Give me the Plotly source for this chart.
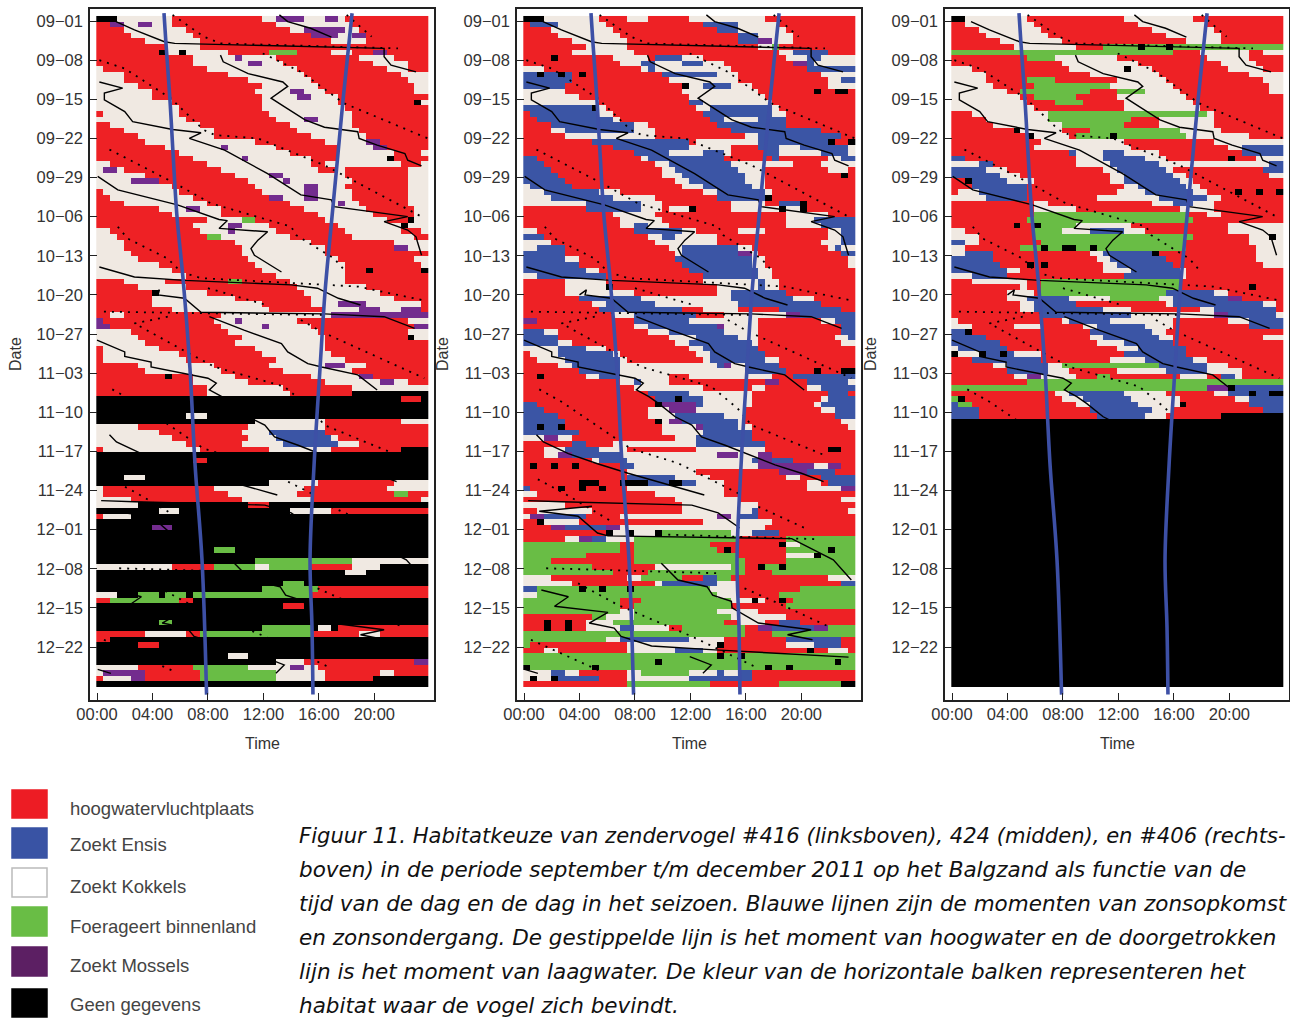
import re
import plotly.graph_objects as go

W, H = 1290, 1019
CODES = {"R": 0, "B": 1, "W": 2, "G": 3, "P": 4, "K": 5}
CELL_COLORS = ["#ee2125", "#3b55a5", "#f0e9e2", "#69bd45", "#732c8e", "#000000"]

# Behaviour per day: run lengths in half-hour slots (R red, B blue, W cream, G green, P purple, K no data)
BIRD_416 = """K3W8R13W2P4W3P2W1R12 R2P2W2P2W3R15W11R11 R4W9R15W2P6W2R10 R5W9R17P4W2P2R9 R7W8R19W5R9 R10W5R33
R9K1W2K1W6R6G4R5W3R3P2R6 R14W6P1W5R12W5R5 R14W8P2W3R13W5R3 W1R15W13R13W3R3 W4R15W11R14W4 W4R18W9R14W3
W6R18W8R14W2 W8R15W5P2W3R13W2 W8R16W5P2W4R13 W11R13W11R11K1W1 W12R12W12R12 R1W11R13W12R11 W13R13W4P2W5R11
R2W13R13W9R11 R4W13R12W9R10 R6W11R14W8R9 R7W16R10W6P2R7 R10W8P1W7R9W5P2R6 R12W16R7W8R4W1 R14W7P1W9R4W7K1R5
W2R14W15R2W11R3W1 W1P2W1R14W14R3W1R9W3 W7R13W5P2W9R9W3 W5P4R13W5P1W9R8W3 W11R12W7P2W4R9W3 R1W11R12W6P2W5R8W3
R2W12R11P2W3P2W5R8W3 R4W12R12W7P1W2R7W3 R9W4P2W3R12W9R7W2 R11W7R14W8R6W2 R16W5G2R10W9R3K1W2 R14W5P2W4R10W9K1W3
W2R13W4P1W6R10W8R3W1 W3R13G2W10R9W9R2 W4R16W11R12W5 W4R17W12R10P2W3 W5R16W12R15 W6R16W13R11W2 W9R14W13R11W1
W11R13W12R3K1R7K1 W13R13W10R12 R4W6R9G2R7W8R12 R6W7R16W10R9 R8K1W7R14W11R7 R8W12R11W12R5 R8W16R7W4P4W8R1
R11W14R8W5P3W3P3R1 R2W2R14W16P14 P1R16W3P1W8R16W3 P2R16W6P1W6R15P2 W5R14W13R13W3 W6R15W12R12K1W2 W7R13W13R15
R1W8R14W10R15 R1W11R12W10R14 R1W12R13W10R12 R6W11R8W8P3W3R9 R7W11R9W10R11 R10K1R3W6R11W7P2R8 R14W8R11W8P2W2R3
R16W11R10W11 R16W12R9K11 K44R3K1 K48 K48 K13W3K32 K23W10R11W4 W6R16W11R15 W9R12W4B8R15 W11R11W4B8W1R13
W13R8W6B8W3R10 R1W14R10W9R10K4 K48 K14R2K32 K48 K48 K4W3K41 K25W7R11W5 W1R16W13R12W6 W1R18W10R14G2R3 W5R16W10R16W1
W6K16R3K23 K9W3K16W6R14 R1W4K43 K48 K8P3K37 K48 K48 K48 K17G3K28 K48 K23G14W11 W11R6G6W2G6R6W4K7 K36W3K9 K48
K27G3K18 K24G8R16 W3K3G3K1G3K1G17R17 R2G10R2K34 K27R3K18 K48 K48 K9G2K37 K24G7K1W2K1R13 R7W6R2G16R7W3R7 R2K46
K6R3K39 K48 K19W3K26 K26W4R16P2 W6R8G8W6P2W2R16 W1P6R8G11W7R8W2R5 R1W4P2R8G11W7R7K8 K48""".split()

BIRD_424 = """K3W8R4W3R6W11R13 R1B4W7R14B5W6R11 R4W9R15B3W7R10 R5W9R17B3W5R9 R7W8R16B3P2W3R9 R9W6R19W2G1R11 R7W9R21W2B5R4
R4K1R8W5R1B4W3R12W3B2W5 R14W3B2W4B3W3R10P2B1W6 W3R14W1B1W11R11B7 B2K1B2K1B1R1K1R11B8W3R12W5 B7R14W10R13W2B2
B6R17K1W2B4W3R11W4 W6R17W11R8K1R2K2R1 W8R16W11R13 W11R13B2W10R12 B10K1W1R13W2B9W1R11 R1B10W2R13B10W2R10
R2B11W1R13B2W5B4R10 R4B12W2R10B10R10 R4W2B10W3R11B13R5 R6W13R13W2B12R2 R10B14R1W9B10K1R2K1 R13B11W6R4B3W3B7W1
R16B5W5B3W1R5B2W6B4W1 B2R15W1B11R7B1R7W2B2 B3R16W2B9W9R4W5 B4R16W2B9W4R9W3R1 B5R15W3B9W3R11K1R1 B6R16W2B8W3R13
W1B6R16W3B7W2R13 W3B8W3R12W2B7W1R12 W4B9W6R9B7K1R12 W9B8W3R10W5R2B3K1R7 R9B8W3R1W3K1R5W7K1W2K1R7 R13W6R19W6R4
R14W6R18W4B6 R14W2B2W3R17W5B5 W2R14B7W2R6W4R9W2B2 B3R15W2B2W6R16W2B2 W4R15W9R15W3B2 W2B4R15W2B8W2R11W1B1W2
B6R16W1B8P2W1R12B2 B6W2R14B11W2R12W1 B8R15B10W2R12W1 B9W2R13B10W2R12 W2B10R14B8W2R12 R6W6R14W8B1W2R11
R6W6K1R15W6B1W2R11 R6W10R12W2B8R10 R8B9W13B9W3R6 R10W2B7W12B12R5 R11B12R3W5R6B9R2 R13W3B9R4W9P2B8
P2R14B8W10R9W2B3 R16W2B10P1W5R12B2 B3W2R13W3B8W5R12B2 B5R16W4B6W3R11W2B1 B5W2R15W2B9W1R12W2 W5B4W3R12W2B8R14
R1W4B8W1R11W2B8R13 R2W4B8W1R11W1B8W2R11 R5W2B7W14B1P1W2B5R11 R8B6W18B6R4K1R3K2 R2K1R6W2B3W7R3W12R3B9
R14W2B1W4R14P2R4B6W1 R16W10R7W2R6W2B5 R18B6W9R11B3R1 R19B3K1B3W7R10W1B4 B2R17K1P5B1W7R9W1B5 B3R15W3P4W7R11W2B3
B5R13W4B7W3R13B3 B6R13K1W1P2B8W1R14W2 B2K1B2K1R14W5P1B5W2R14W1 B8R12W6B7R15 W3P2W2R15W3B8R15 R7B2R4W12B10R13
R3W3B5W4R10W10R9K2R2 R3W2P2B7W14P3W3P2R12 R10W1B4W18B1P2B3R9 R1K1R2K1R2K1R6B2W18P8W2P2R2 R15W10R12P4B4R3
R15B7W5R11W2R3B5 R8K3R3K4B3K2B2W4R12W2R1B4 B1R4K1R2K1R2K1R3W14R12W5P2 W2R17W10R19 R22W9R15W2 W6R17W11R14
R2W8R13W10B1R13W1 W1P2B6R5W14P2W1B3R14 R2K1W5R18W10R12 R4P2B6P2W21R13 R12K1W2K1W3K1G10W3B4R11 R6W2P2B2W4G15R7G10
G14R2G11R10K1W2G8 G14R2G12R1K1R8G6K1G3 G9R7G15R7W4K1G5 G4R12G16R6G10 G10R9W11G2R2K1G2K1G10 G13R5G14R4G12
W4R11W2G6R3B2G2R14W4 W7R12W1B8W3R15B2 B2G6K1G2K1G3K1G11W4R9G8 W2G26W3R6G11 G14R3G13W3K1W1R2K1R1G9 G14R2G14R8G10
G14W2G12W6R14 R10G2W4G14W8R10 R3K1R2K1R2W4G16R2W4R2B3R8 R3K1R2K1R2W5B2W5R2G9R2P2B6P2G4 G32R4G12 G12W2B10W5R9B8R2
G1R14W13K1R9W4B4R2 R3W2R10W7B4W2R13K1R2W3R1 G28K1G2K1G16 G19K1G25K1G2 K1G9K1G24K1G2K1G9 W4B2W2R7W2G7W4B1W2B2R15
W1K1W2K1B6R4W9B9R15 R15G12R10G9K2""".split()

BIRD_406 = """K2W9R14W10R13 R2W10R15W10R11 R4W9R16W9R10 R5W9R17W8R9 R7W9R18W5R9 R9W9R4G5K1G3K1G16 G32R4W7R2W3 R11G4W9R13W6R5
R16W11R12W5R4 W3R14W8K1W3R11W5R3 W5R15W10R13W5 W5R6G4R9W7R14W3 W6R6G11W9R14W2 W8R2G10R4G4W5R13W2 W10R2G6R6W10R14
W11R4G4R6W10R13 W12R13W11R12 R3W11G23W1R10 R5W9G12R4W8R10 R6W10G9R5W8R10 R9K1W6R4G13W6R9 R11K1W5R1G5K1G10W9R5
R13W12R13W10 R12W14R14W2B6 R17B1W4B3W5R12B6 B2R16W4B6W3R9K1R3W4 W4B2R12W5B7W16B2 B5W3R14W2B7W1R13B3
B7W3R13W2B7W2R12W2 R2K1B5W4R11W2B8W2R13 R3B8R14W2B7W2R12 R1W3B7R13W4B7W2R4K1R2K1R2K1 W5B6R10W9B7W2R9
R12W2R15W3B3W3R10 R12W6R15W5R10 R12G22R3W2R9 R11G24R13 R9K1R2K1G5W8R14W8 W2R10G4W4B5W3R12W8 W4R8G23R8W3K1W1
B2W2R9G21R9W5 W2R8G3K1G2K2G2K1G13R10W4 W2B4R14W2B7K1R14W4 B6R15W2B8R13W4 B7R4K1R1K1R8W2B8R13W3 B8W2R12W4B7W1R14
W3B5R17B8W1R14 R3W8R2G20R15 R10W1R2G20R10K1R4 R8W4R1G18B7W2R8 R8W3B6W6G7W2B8P2R6 R10W2B6R13W1B13W2R1 R10W2B10W4R9R1W2B9R1
R13B13W12P2B7W1 W1R15W1B6W9R8W3B5 W3R6W4R6W2B7W4R11B5 B2K1R17B9W2R17 B5R15W2B8W2R13W3 B7R14W4B7R16 W1B7R16W3B7R14
K1W3K1B2K1B1W4R12B9R14 R3B10R10W5B7W2R11 R6W2B6W2G14B7W3R8 R8B6W3R7W7B6W5R6 R9W2P2W5R3G2R10W4R2B2W1R6 R11G37 G37P3K1B7
R15W2B8W6R7W2B3K1B2K2 G1K1R14W3B7W7R8W2B5 B1G2R15W2B7W6K1R9B5 B4R16B9W3R13B3 B4R17B7W3R8K9""".split()
BIRD_406 = BIRD_406 + ["K48"] * (120 - len(BIRD_406))

DAY_TICKS = ["09\u221201", "09\u221208", "09\u221215", "09\u221222", "09\u221229", "10\u221206", "10\u221213", "10\u221220",
             "10\u221227", "11\u221203", "11\u221210", "11\u221217", "11\u221224", "12\u221201", "12\u221208", "12\u221215", "12\u221222"]
HOUR_TICKS = ["00:00", "04:00", "08:00", "12:00", "16:00", "20:00"]

# (hour, day index)
SUNRISE = [(4.83, -1.4), (4.97, 3.9), (5.26, 14.1), (5.48, 23.6), (5.77, 35.1), (6.2, 46), (6.7, 62.1), (7.07, 79.4), (7.57, 96.4), (7.9, 120.5)]
SUNSET = [(18.39, -1.4), (17.74, 14.1), (17.38, 23.6), (16.94, 35.1), (16.44, 48.5), (16.08, 62.1), (15.65, 79.4), (15.36, 96.4), (15.5, 108.4), (15.57, 120.5)]

LOW_WATER = [
    [(1.37, .1), (2.7, 1.6), (4.86, 3.7), (5.6, 4), (20.7, 4.9), (20.7, 6.4), (21.2, 7.9), (23, 9.1)],
    [(8.9, 6.1), (9.1, 7.3), (10.9, 9.4), (13.4, 10.9), (13.75, 11.7), (12.55, 13.8), (13.5, 15.3), (15, 17.7), (16.4, 19), (18.8, 19.8), (18.9, 21), (20.2, 22.2), (22.2, 23.7), (22.4, 24.9), (23.4, 25.9)],
    [(13.15, -1.1), (13.75, .1), (15.4, 1.3), (16.9, 2.9)],
    [(.17, 10.9), (1.85, 12), (.53, 12.9), (.53, 14.1), (2, 16.2), (2.57, 18), (5.45, 19.4), (7.5, 20), (6.66, 21), (9.2, 23.1), (12.3, 27.3), (14.2, 30.2), (14.7, 31.1), (16.9, 32), (17.1, 33.2), (22.4, 35), (20.7, 35.9), (22.4, 37.4), (23, 38.6), (23.1, 39.5), (23.4, 41.9)],
    [(.05, 27.8), (1.5, 30.2), (5.8, 32.9), (8.8, 35.5), (9.4, 35.7), (8.8, 37.1), (12.3, 37.7), (11.6, 39.2), (11.1, 40.7), (11.35, 41.9), (13.3, 44.9)],
    [(.17, 44), (2.7, 45.8), (6.3, 46.4), (14, 47.2), (15.9, 47.8), (17.4, 49.6), (19, 50.8)],
    [(4, 49), (4.5, 48.1), (4.4, 49), (6.3, 49.6), (7.5, 52.1), (16.4, 52.4), (20.7, 52.9), (22.9, 55)],
    [(8.1, 52.9), (10.6, 55.3), (13.3, 57.7), (13.75, 59.2), (15.2, 61.3), (16.2, 61.9), (18.8, 63.3), (20.2, 66)],
    [(0, 57.1), (2, 59.2), (2, 60), (3.9, 61), (3.9, 61.9), (6.8, 63.3), (8, 63.9), (8.6, 64.8), (8.1, 66), (9, 67.2), (9.7, 68.4), (10.9, 70.8), (12.1, 72.3), (12.8, 74.4), (14.5, 75.9), (18.1, 79.4), (20, 80.9), (21.6, 82.4)],
    [(.9, 74), (1.4, 75.3), (3.2, 77.4), (5.3, 79.2), (7.5, 80.9), (13, 84.8)],
    [(.3, 85.8), (2.7, 86), (12.1, 86.6), (14, 88), (15.55, 90.7)],
    [(1.1, 87.7), (4.9, 86.8), (1.1, 87.7), (3.9, 88.6), (5.3, 91.6), (6.05, 92.1), (19.3, 92.6), (22.3, 96.4), (23.6, 100)],
    [(9.9, 97), (11.1, 100), (13.2, 101.2), (13.6, 102.7), (14.95, 103.8), (15, 105), (16.9, 107.7), (20.7, 108.9), (19, 109.8), (20.8, 110.7)],
    [(1.25, 101.8), (3.2, 103), (2.2, 104.7), (6.05, 105.8), (4.7, 107.7), (6.5, 108.6), (7, 110.1), (9.2, 111.8), (13.75, 112.5), (23.4, 113.8)],
    [(11.95, 113.7), (13.5, 115.2), (12.9, 116.7)],
    [(.05, 116), (1, 116.7)],
]
HIGH_WATER = [
    [(5.45, -1.1), (7.7, 2.8), (8.9, 4), (21.7, 4.9)],
    [(11.95, 5.8), (14.7, 9.1), (17.8, 14.7), (23.85, 21)],
    [(18, -1.1), (19.8, 2.8)],
    [(.17, 7), (2, 8.5), (5.3, 13.8), (7.7, 19.5), (8.5, 20.4), (11.6, 21), (16.4, 25.8), (23.4, 35)],
    [(.9, 23), (5.6, 29), (8.2, 32.6), (14, 36.8), (14.35, 38.3), (17.1, 42.5), (17.95, 44.9)],
    [(1.5, 36.8), (2.2, 38.9), (5.1, 42.5), (6.06, 44.9), (7.5, 46), (14.5, 47), (18.8, 47.5), (23.6, 50)],
    [(8, 47.8), (12.2, 50.8)],
    [(.5, 52), (16.4, 52.6)],
    [(5.1, 52.9), (2.7, 54.1), (6, 58.6), (8.5, 61.9), (13.5, 65.4), (15.4, 69.3), (16.4, 72.3), (19.3, 75.3), (21.7, 77.7)],
    [(14.7, 53.5), (16.2, 55.6), (23.6, 63.9)],
    [(1.1, 65.9), (2.7, 68.1), (6.8, 75), (7.7, 76.5), (11.1, 79.1), (14, 82.7), (15.7, 84.8)],
    [(1, 82), (2.9, 84.5), (6.5, 89.8)],
    [(1.6, 97.9), (14, 98.8)],
    [(3.9, 100.6), (6.8, 104.5), (12.1, 110.1), (16.9, 115.8)],
    [(.5, 110.7), (5.6, 116.4)],
    [(15.9, 101.5), (18.8, 104.7), (22.2, 108.6)],
    [(16.9, 86.9), (20.5, 91)],
    [(10.4, 91.9), (21.2, 92.7)],
]

LEGEND_LABELS = ["hoogwatervluchtplaats", "Zoekt Ensis", "Zoekt Kokkels", "Foerageert binnenland", "Zoekt Mossels", "Geen gegevens"]
LEGEND_COLORS = ["#ed1c24", "#3953a4", "#ffffff", "#69bd45", "#5c1f63", "#000000"]
CAPTION = [
    "Figuur 11. Habitatkeuze van zendervogel #416 (linksboven), 424 (midden), en #406 (rechts-",
    "boven) in de periode september t/m december 2011 op het Balgzand als functie van de",
    "tijd van de dag en de dag in het seizoen. Blauwe lijnen zijn de momenten van zonsopkomst",
    "en zonsondergang. De gestippelde lijn is het moment van hoogwater en de doorgetrokken",
    "lijn is het moment van laagwater. De kleur van de horizontale balken representeren het",
    "habitat waar de vogel zich bevindt.",
]


def decode(rows):
    grid = []
    for i, row in enumerate(rows):
        cells = []
        for code, n in re.findall(r"([RBWGPK])(\d+)", row):
            cells += [CODES[code]] * int(n)
        if len(cells) != 48:
            print("row", i, "has", len(cells))
        cells = (cells + [cells[-1]] * 48)[:48]
        grid.append(cells)
    return grid


def chain(segments):
    xs, ys = [], []
    for seg in segments:
        xs += [p[0] for p in seg] + [None]
        ys += [p[1] for p in seg] + [None]
    return xs, ys


FRAMES = [(90, 434), (517, 861), (945, 1289)]
TOP, BOTTOM = 9, 700
x_edges = [-0.05 + i * 23.95 / 48 for i in range(49)]
y_edges = [-0.9 + i for i in range(121)]
stepped = []
for i, c in enumerate(CELL_COLORS):
    stepped += [[i / 6, c], [(i + 1) / 6, c]]

fig = go.Figure()
font = "Liberation Sans"
annotations = []
for n, (rows, (l, r)) in enumerate(zip([BIRD_416, BIRD_424, BIRD_406], FRAMES), start=1):
    grid = decode(rows)
    xa, ya = ("x", "y") if n == 1 else (f"x{n}", f"y{n}")
    fig.add_trace(go.Heatmap(z=grid, x=x_edges, y=y_edges, zmin=0, zmax=6, colorscale=stepped, showscale=False, xaxis=xa, yaxis=ya))
    lx, ly = chain(HIGH_WATER)
    fig.add_trace(go.Scatter(x=lx, y=ly, mode="lines", line=dict(color="#000", width=1.8, dash="2px,6px"), xaxis=xa, yaxis=ya, showlegend=False))
    lx, ly = chain(LOW_WATER)
    fig.add_trace(go.Scatter(x=lx, y=ly, mode="lines", line=dict(color="#000", width=1.4), xaxis=xa, yaxis=ya, showlegend=False))
    for sun in (SUNRISE, SUNSET):
        fig.add_trace(go.Scatter(x=[p[0] for p in sun], y=[p[1] for p in sun], mode="lines", line=dict(color="#3d50a6", width=3.6, shape="spline"), xaxis=xa, yaxis=ya, showlegend=False))
    axis = dict(showgrid=False, zeroline=False, showline=True, mirror=True, linecolor="#222", linewidth=1.5, ticks="inside", automargin=False,
                ticklen=7, tickwidth=1, tickcolor="#222", tickfont=dict(family=font, size=16.5, color="#333"))
    fig.update_layout({
        ("xaxis" if n == 1 else f"xaxis{n}"): dict(axis, domain=[l / W, r / W], range=[-7 / 13.87, (r - (l + 7)) / 13.87],
                                                    tickvals=[0, 4, 8, 12, 16, 20], ticktext=HOUR_TICKS, anchor=ya, ticklabelstandoff=-2),
        ("yaxis" if n == 1 else f"yaxis{n}"): dict(axis, domain=[1 - BOTTOM / H, 1 - TOP / H], range=[121.47, -2.15],
                                                    tickvals=[7 * i for i in range(len(DAY_TICKS))], ticktext=DAY_TICKS, anchor=xa, ticklabelstandoff=2),
    })
    annotations.append(dict(text="Time", x=(l + 172) / W, y=1 - 743 / H))
    annotations.append(dict(text="Date", x=(l - 75) / W, y=1 - 354 / H, textangle=-90))

annotations = [dict(a, xref="paper", yref="paper", showarrow=False, xanchor="center", yanchor="middle", font=dict(family=font, size=16, color="#333")) for a in annotations]

shapes = []
swatch_rows = [(790, 818), (828, 858), (868, 897), (907, 936), (947, 976), (989, 1017)]
label_rows = [808, 844, 886, 926, 965, 1004]
for color, label, (t, b), yc in zip(LEGEND_COLORS, LEGEND_LABELS, swatch_rows, label_rows):
    shapes.append(dict(type="rect", xref="paper", yref="paper", x0=12 / W, x1=47 / W, y0=1 - b / H, y1=1 - t / H,
                       fillcolor=color, line=dict(color="#bbb" if color == "#ffffff" else color, width=1.5)))
    annotations.append(dict(text=label, xref="paper", yref="paper", x=67.5 / W, y=1 - yc / H, xanchor="left", yanchor="middle", showarrow=False,
                            font=dict(family=font, size=18.5, color="#444")))
for i, line in enumerate(CAPTION):
    annotations.append(dict(text=f"<i>{line}</i>", xref="paper", yref="paper", x=296.5 / W, y=1 - (835 + 34 * i) / H, xanchor="left", yanchor="middle", showarrow=False,
                            font=dict(family="DejaVu Sans", size=21.1 if i == 0 else 21.5, color="#111")))

fig.update_layout(width=W, height=H, margin=dict(l=0, r=0, t=0, b=0), paper_bgcolor="white", plot_bgcolor="white",
                  showlegend=False, annotations=annotations, shapes=shapes)
fig.write_html("out.html", config={"displayModeBar": False}, post_script="document.body.style.margin='0';")
